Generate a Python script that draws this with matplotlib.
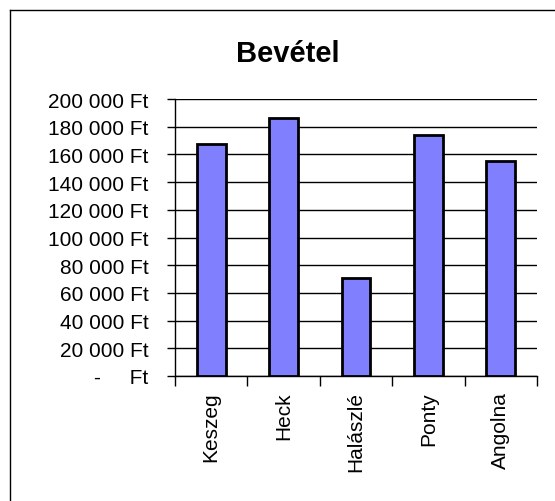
"""
bevetel.py
Bar chart of revenue (Bevétel) per dish, in Excel style.
"""

import matplotlib
matplotlib.use('Agg')
import matplotlib.pyplot as plt
from matplotlib.lines import Line2D

# data
categories = ['Keszeg', 'Heck', 'Halászlé', 'Ponty', 'Angolna']
revenue = [167500, 186300, 71100, 174200, 155200]
yticks = list(range(0, 200001, 20000))


def ft_label(v):
    """Excel accounting style: '180 000 Ft', zero shown as a dash."""
    if v == 0:
        return '-     Ft'
    return '{:,} Ft'.format(v).replace(',', ' ')


plt.rcParams['font.family'] = ['Liberation Sans', 'DejaVu Sans']

fig = plt.figure(figsize=(5.55, 5.02), dpi=100)
ax = fig.add_axes([175 / 555, 1 - 377 / 502, 362 / 555, 277 / 502])

x = range(len(categories))
ax.bar(x, revenue, width=0.4, color='#8080FF', edgecolor='black',
       linewidth=2, zorder=3)

ax.set_xlim(-0.5, len(categories) - 0.5)
ax.set_ylim(0, 200000)

# y axis
ax.set_yticks(yticks)
ax.set_yticklabels([ft_label(v) for v in yticks], fontsize=15)
ax.tick_params(axis='y', direction='out', length=6, width=1, pad=13)
ax.yaxis.grid(True, color='black', linewidth=1, zorder=0)

# x axis: labels at centres, tick marks at boundaries
ax.set_xticks(list(x))
ax.set_xticklabels(categories, rotation=90, fontsize=15)
ax.tick_params(axis='x', length=0, pad=11)
ax.set_xticks([i - 0.5 for i in range(len(categories) + 1)], minor=True)
ax.tick_params(axis='x', which='minor', direction='out', length=7, width=1)

for side in ['top', 'right']:
    ax.spines[side].set_visible(False)
ax.spines['left'].set_linewidth(1)
ax.spines['bottom'].set_linewidth(1)

fig.text(288 / 555, 1 - 54 / 502, 'Bevétel', fontsize=21, fontweight='bold',
         ha='center', va='center')

# chart area border (left and top edges only are visible)
fig.add_artist(Line2D([10 / 555, 10 / 555], [-0.1, 1 - 10.5 / 502],
                      color='black', linewidth=1, transform=fig.transFigure))
fig.add_artist(Line2D([10 / 555, 1.1], [1 - 10.5 / 502, 1 - 10.5 / 502],
                      color='black', linewidth=1, transform=fig.transFigure))

fig.savefig('out.png', dpi=100)
